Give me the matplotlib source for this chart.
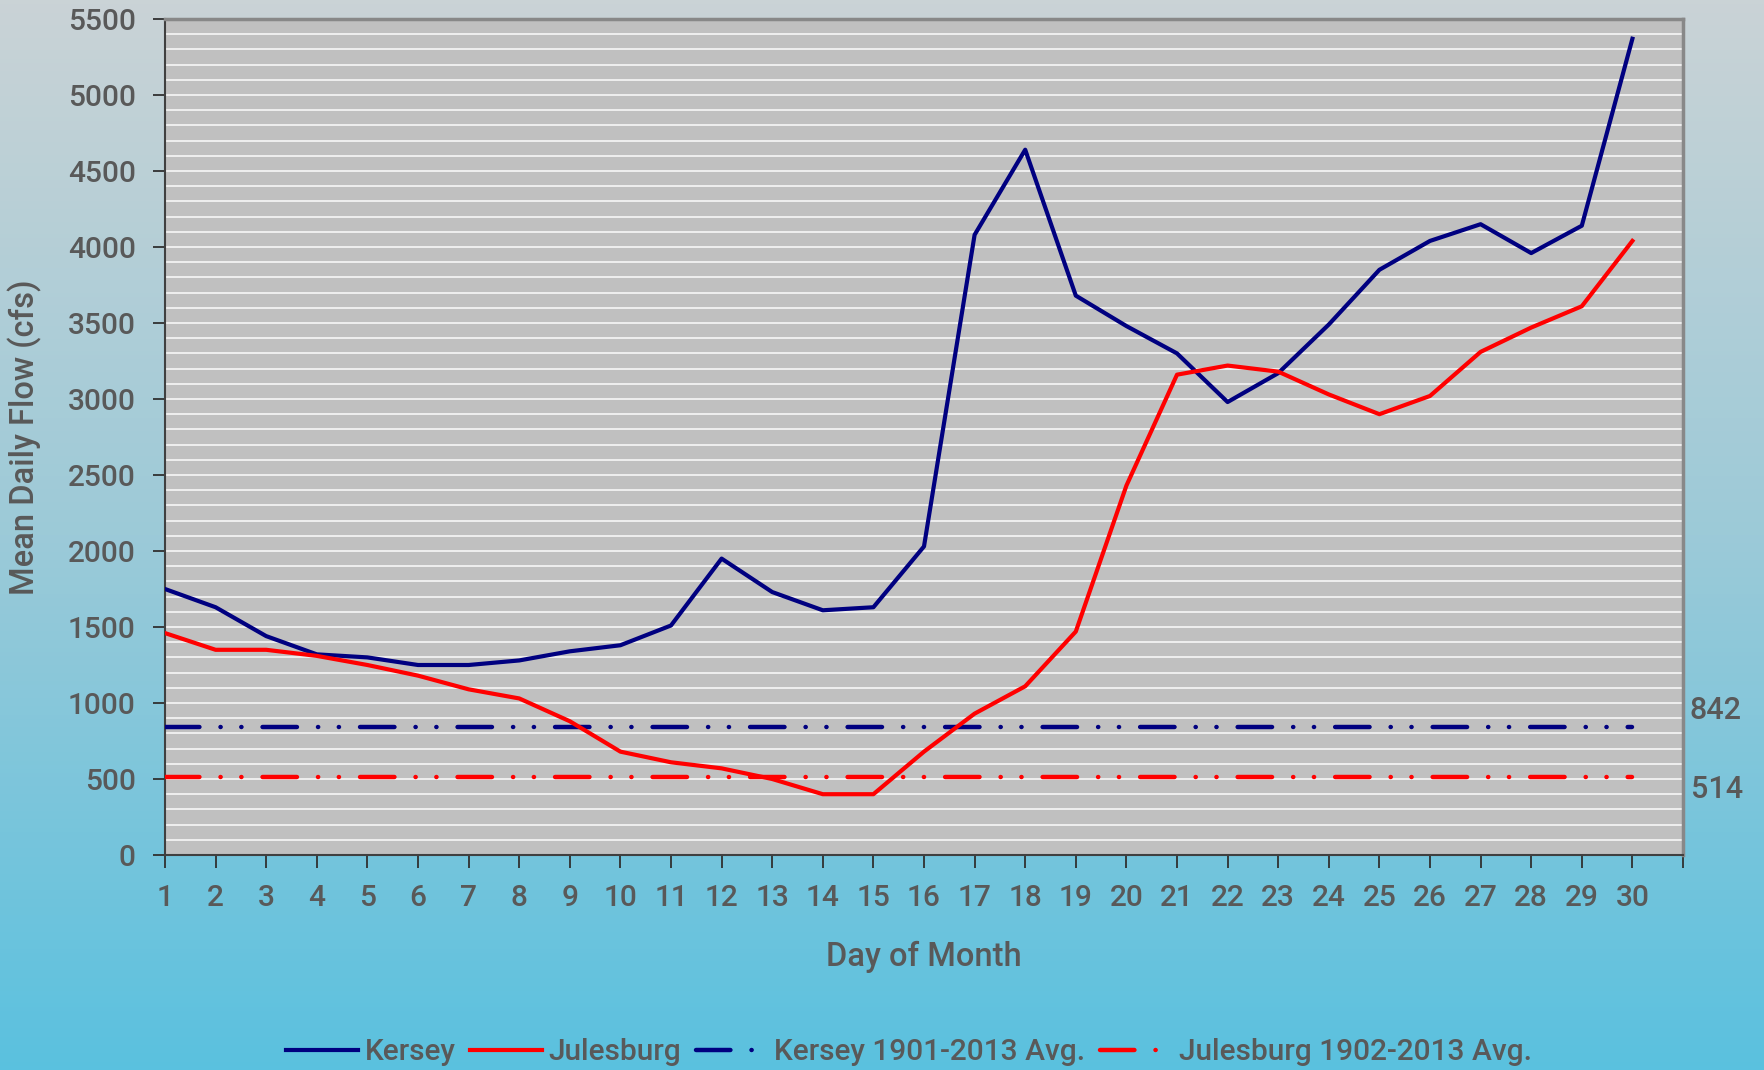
import numpy as np
import matplotlib
matplotlib.use("Agg")
from matplotlib import pyplot as plt
from matplotlib.colors import LinearSegmentedColormap

# Data
days = list(range(1, 31))
kersey = [1750, 1630, 1440, 1320, 1300, 1250, 1250, 1280, 1340, 1380,
          1510, 1950, 1730, 1610, 1630, 2030, 4080, 4640, 3680, 3480,
          3300, 2980, 3170, 3490, 3850, 4040, 4150, 3960, 4140, 5370]
julesburg = [1460, 1350, 1350, 1310, 1250, 1180, 1090, 1030, 880, 680,
             610, 570, 500, 400, 400, 680, 930, 1110, 1470, 2430,
             3160, 3220, 3180, 3030, 2900, 3020, 3310, 3470, 3610, 4040]
kersey_avg = 842
julesburg_avg = 514
series_labels = ["Kersey", "Julesburg", "Kersey 1901-2013 Avg.", "Julesburg 1902-2013 Avg."]

plt.rcParams["font.family"] = ["Roboto", "DejaVu Sans"]
text_col = "#595959"
navy = "#000080"
red = "#ff0000"

fig = plt.figure(figsize=(17.65, 10.70), dpi=100)

# vertical gradient background
bg = fig.add_axes([0, 0, 1, 1], zorder=-10)
grad = LinearSegmentedColormap.from_list("bg", ["#5ac1df", "#9ccad8", "#cad3d6"])
bg.imshow(np.linspace(0, 1, 256).reshape(-1, 1), aspect="auto", cmap=grad,
          origin="lower", extent=[0, 1, 0, 1])
bg.axis("off")

ax = fig.add_axes([165 / 1765, 1 - 855 / 1070, (1683 - 165) / 1765, (855 - 19) / 1070])
ax.set_facecolor("#c0c0c0")

# avg lines: long dash followed by two dots
lw = 3.0
lw_avg = 3.2
dash_pat = (7.75, 4.73, 0.05, 4.63, 0.05, 4.73)
ax.plot(days, kersey, color=navy, lw=lw, label=series_labels[0], zorder=4)
ax.plot(days, julesburg, color=red, lw=lw, label=series_labels[1], zorder=4)
ax.plot(days, [kersey_avg] * len(days), color=navy, lw=lw_avg, dashes=dash_pat,
        dash_capstyle="round", label=series_labels[2], zorder=3)
ax.plot(days, [julesburg_avg] * len(days), color=red, lw=lw_avg, dashes=dash_pat,
        dash_capstyle="round", label=series_labels[3], zorder=3)

ax.set_xlim(1, 31)
ax.set_ylim(0, 5500)
ax.set_xticks(range(1, 32))
ax.set_xticklabels([str(d) for d in days] + [""])
ax.set_yticks(range(0, 5501, 500))
ax.set_yticks(range(0, 5501, 100), minor=True)
ax.grid(which="both", axis="y", color="#f2f2f2", lw=1.3, zorder=1)
ax.set_axisbelow(True)
ax.tick_params(which="minor", length=0)
ax.tick_params(which="major", length=9, width=1.3, color="#303030",
               labelsize=21.5, labelcolor=text_col, direction="out")
ax.tick_params(axis="x", pad=12)
ax.tick_params(axis="y", pad=12)
for t in ax.get_xticklabels() + ax.get_yticklabels():
    t.set_fontweight("medium")

for s in ["left", "bottom"]:
    ax.spines[s].set_color("#404040")
    ax.spines[s].set_linewidth(1.5)
for s in ["top", "right"]:
    ax.spines[s].set_color("#888888")
    ax.spines[s].set_linewidth(2.5)

ax.set_xlabel("Day of Month", fontsize=23.5, color=text_col, fontweight="medium")
ax.xaxis.set_label_coords(0.5, -(957 - 855) / 836)
ax.xaxis.label.set_va("center")
ax.set_ylabel("Mean Daily Flow (cfs)", fontsize=23.5, color=text_col, fontweight="medium")
ax.yaxis.set_label_coords((25 - 165) / 1518, 0.5)
ax.yaxis.label.set_va("center")

# avg value labels on the right
ax.annotate(str(kersey_avg), xy=(1, kersey_avg), xycoords=("axes fraction", "data"),
            xytext=(5, 12), textcoords="offset points", fontsize=22, fontweight="medium",
            color=text_col, va="center", ha="left", annotation_clip=False)
ax.annotate(str(julesburg_avg), xy=(1, julesburg_avg), xycoords=("axes fraction", "data"),
            xytext=(6, -9), textcoords="offset points", fontsize=22, fontweight="medium",
            color=text_col, va="center", ha="left", annotation_clip=False)

leg = fig.legend(loc="center", bbox_to_anchor=(0.515, 1 - 1052 / 1070), ncol=4,
                 frameon=False, handlelength=2.4, handletextpad=0.22,
                 columnspacing=0.5, labelcolor=text_col,
                 prop={"size": 21.5, "weight": "medium"})

fig.savefig("out.png", dpi=100)
